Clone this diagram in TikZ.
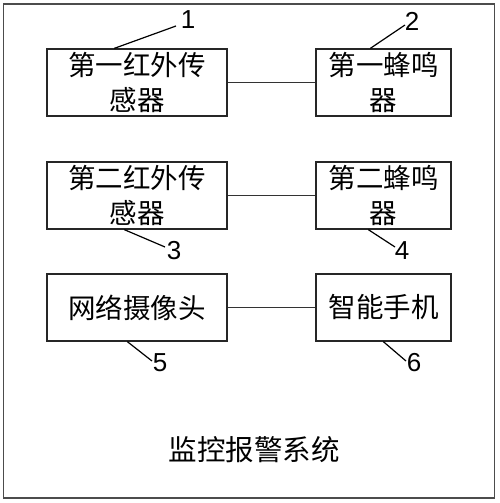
\documentclass[tikz,border=0pt]{standalone}
\usepackage{fontspec}
\setmainfont{Liberation Sans}
\newfontfamily\cjk{Noto Sans CJK SC}
\begin{document}
\begin{tikzpicture}[x=1pt,y=-1pt,
  blk/.style={draw=black!85,line width=1.3pt,minimum width=180pt,minimum height=67pt,inner sep=0pt,align=center,font=\cjk\fontsize{27.5}{35}\selectfont},
  wire/.style={draw=black!80,line width=1pt},
  lead/.style={draw=black,line width=1.2pt},
  num/.style={inner sep=0pt,font=\fontsize{26}{26}\selectfont}]
\useasboundingbox (0,0) rectangle (500,503);
\node[draw=black!70,line width=1.5pt,minimum width=491pt,minimum height=494pt,inner sep=0pt] (frame) at (249,251) {};
\node[blk] (b1) at (137,82.5) {第一红外传\\感器};
\node[blk,minimum width=135pt] (b2) at (383.5,82.5) {第一蜂鸣\\器};
\node[blk] (b3) at (137,195.5) {第二红外传\\感器};
\node[blk,minimum width=135pt] (b4) at (383.5,195.5) {第二蜂鸣\\器};
\node[blk] (b5) at (137,307.5) {网络摄像头};
\node[blk,minimum width=135pt] (b6) at (383.5,307.5) {智能手机};
\draw[wire] (b1) -- (b2);
\draw[wire] (b3) -- (b4);
\draw[wire] (b5) -- (b6);
\node[font=\cjk\fontsize{28.5}{30}\selectfont,inner sep=0pt] (title) at (254,450) {监控报警系统};
% leaders
\coordinate (e1) at (176,26);
\coordinate (e2) at (405,25);
\coordinate (e3) at (165,247);
\coordinate (e4) at (395,247);
\coordinate (e5) at (152,361);
\coordinate (e6) at (406,361);
\draw[lead] (b1.north west) ++(68,0) coordinate (s1) -- (e1);
\draw[lead] (b2.north west) ++(55,0) coordinate (s2) -- (e2);
\draw[lead] (b3.south west) ++(78,0) coordinate (s3) -- (e3);
\draw[lead] (b4.south west) ++(53,0) coordinate (s4) -- (e4);
\draw[lead] (b5.south west) ++(81,0) coordinate (s5) -- (e5);
\draw[lead] (b6.south west) ++(68,0) coordinate (s6) -- (e6);
\node[num] (n1) at (188,20) {1};
\node[num] (n2) at (412,21) {2};
\node[num] (n3) at (174,251) {3};
\node[num] (n4) at (402,251) {4};
\node[num] (n5) at (160,363) {5};
\node[num] (n6) at (414,363) {6};
\end{tikzpicture}
\end{document}
